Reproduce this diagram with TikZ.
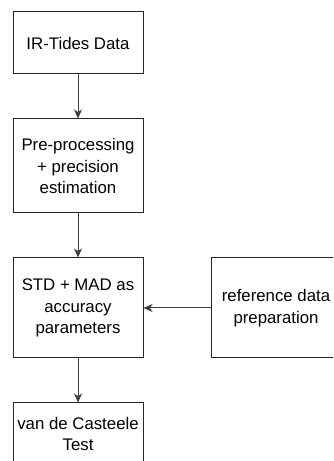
\documentclass[tikz,border=0pt]{standalone}
\usepackage{fontspec}
\setmainfont{Liberation Sans}
\usetikzlibrary{arrows.meta}
\begin{document}
\begin{tikzpicture}[x=1pt,y=1pt,
  box/.style={draw=black!85, line width=1pt, minimum width=130pt, inner sep=0pt, align=center,
    font=\fontsize{16.8}{21.5}\selectfont},
  conn/.style={draw=black!75, line width=1pt, -{Stealth[length=9pt,width=8pt,inset=2.5pt]}}]
\useasboundingbox (0,0) rectangle (333,461);
\clip (0,0) rectangle (333,461);
\node[box, minimum height=62pt] (a) at (78,418) {IR-Tides Data};
\node[box, minimum height=94pt] (b) at (78,295) {Pre-processing\\+ precision\\estimation};
\node[box, minimum height=100pt] (c) at (78,153) {STD + MAD as\\accuracy\\parameters};
\node[box, minimum height=100pt] (d) at (276,153) {reference data\\preparation};
\node[box, minimum height=62pt] (e) at (78,27) {van de Casteele\\Test};
\draw[conn] (a) -- (b);
\draw[conn] (b) -- (c);
\draw[conn] (d) -- (c);
\draw[conn] (c) -- (e);
\end{tikzpicture}
\end{document}
